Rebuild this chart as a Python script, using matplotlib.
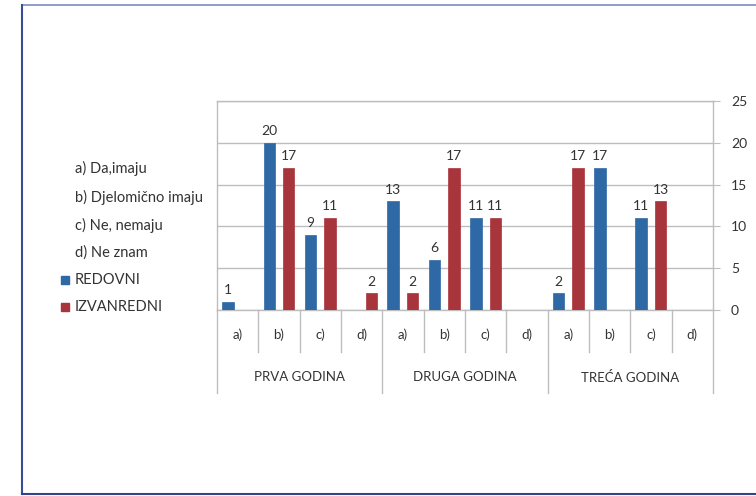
import numpy as np
import matplotlib
matplotlib.use("Agg")
import matplotlib.pyplot as plt
from matplotlib.lines import Line2D
from matplotlib.patches import Rectangle

plt.rcParams['font.family'] = ['Lato', 'DejaVu Sans']

# answers per year, a) b) c) d); None = no bar
groups = ["PRVA GODINA", "DRUGA GODINA", "TREĆA GODINA"]
answers = ["a)", "b)", "c)", "d)"]
redovni = [1, 20, 9, None, 13, 6, 11, None, 2, 17, 11, None]
izvanredni = [None, 17, 11, 2, 2, 17, 11, None, 17, None, 13, None]
legend_items = ["a) Da,imaju", "b) Djelomično imaju", "c) Ne, nemaju", "d) Ne znam"]
series_names = ["REDOVNI", "IZVANREDNI"]
yticks = [0, 5, 10, 15, 20, 25]

BLUE = "#2E69A6"
RED = "#A8353B"
GRID = "#BDBDBD"
TXT = "#333333"

W, H = 756, 496
fig = plt.figure(figsize=(W / 100, H / 100), dpi=100)

# plot area in pixels
x0, x1, y_top, y_zero = 217, 713, 101, 310
ax = fig.add_axes([x0 / W, 1 - y_zero / H, (x1 - x0) / W, (y_zero - y_top) / H])

n = len(redovni)
x = np.arange(n)
bw = 0.28
off = 0.235

for vals, color, sign in [(redovni, BLUE, -1), (izvanredni, RED, 1)]:
    for i, v in enumerate(vals):
        if v is None:
            continue
        ax.bar(x[i] + sign * off, v, width=bw, color=color, edgecolor=color, linewidth=0.5, zorder=3)
        ax.annotate(str(v), (x[i] + sign * off, v), xytext=(0, 4), textcoords="offset points",
                    ha="center", va="bottom", fontsize=10, color=TXT)

ax.set_xlim(-0.5, n - 0.5)
ax.set_ylim(0, 25)
ax.set_yticks(yticks)
ax.yaxis.tick_right()
ax.tick_params(axis="y", length=5, color=GRID, labelsize=10, labelcolor=TXT, pad=8)
ax.set_xticks([])
ax.grid(axis="y", color=GRID, linewidth=1, zorder=0)
for s in ["top", "bottom", "left", "right"]:
    ax.spines[s].set_color(GRID)
    ax.spines[s].set_linewidth(1)

# two level category axis
trans = ax.get_xaxis_transform()
h_ax = y_zero - y_top
sub_y = -25 / h_ax
sub_sep = -42 / h_ax
grp_y = -67 / h_ax
grp_sep = -83 / h_ax
for i in range(n):
    ax.text(x[i], sub_y, answers[i % 4], transform=trans, ha="center", va="center",
            fontsize=9.5, color=TXT)
for b in range(n + 1):
    bottom = grp_sep if b % 4 == 0 else sub_sep
    ax.add_line(Line2D([b - 0.5, b - 0.5], [0, bottom], transform=trans, color=GRID,
                       linewidth=1, clip_on=False))
for g, name in enumerate(groups):
    ax.text(g * 4 + 1.5, grp_y, name, transform=trans, ha="center", va="center",
            fontsize=9.5, color=TXT)

# legend on the left
rows = [168, 197, 225, 253, 280, 307]
for r, label in zip(rows[:4], legend_items):
    fig.text(75 / W, 1 - r / H, label, ha="left", va="center", fontsize=10.5, color=TXT)
for r, label, color in zip(rows[4:], series_names, [BLUE, RED]):
    fig.patches.append(Rectangle((61 / W, 1 - (r + 4) / H), 8 / W, 8 / H,
                                 transform=fig.transFigure, color=color))
    fig.text(75 / W, 1 - r / H, label, ha="left", va="center", fontsize=10.5, color=TXT)

# outer frame
fig.add_artist(Line2D([22 / W, 1], [1 - 5 / H, 1 - 5 / H], color="#7C8CC4", linewidth=1.2))
fig.add_artist(Line2D([22 / W, 22 / W], [1 - 5 / H, 1 - 494 / H], color="#3A4E96", linewidth=1.5))
fig.add_artist(Line2D([22 / W, 1], [1 - 494 / H, 1 - 494 / H], color="#2F448A", linewidth=1.5))

fig.savefig("out.png", dpi=100)
